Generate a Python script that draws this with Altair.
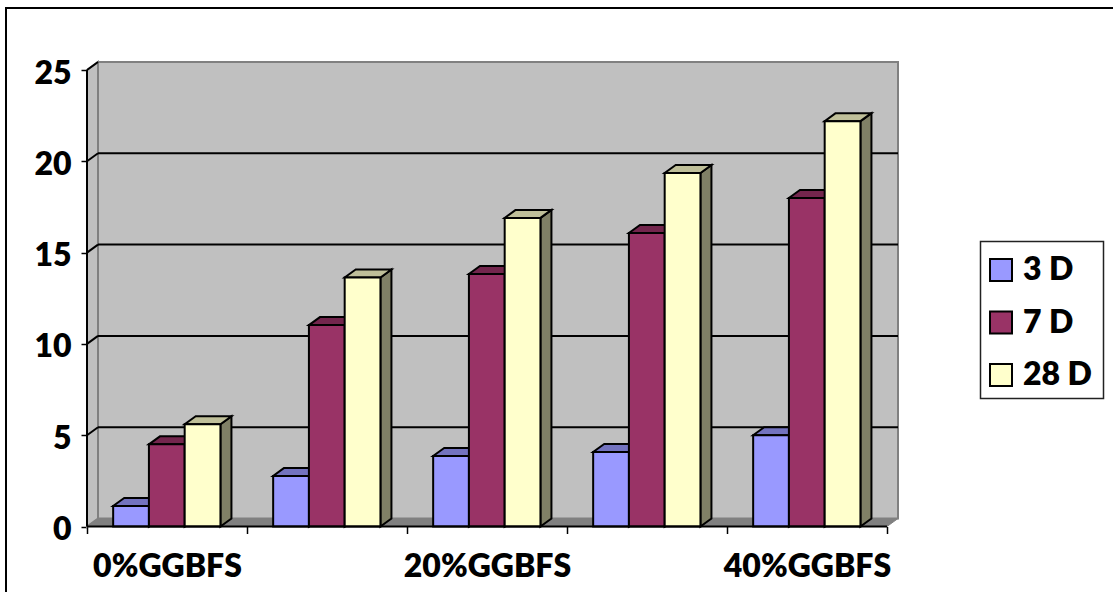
import altair as alt
import pandas as pd

# Compressive strength by GGBFS replacement level and curing age
group_labels = ["0%GGBFS", "10%GGBFS", "20%GGBFS", "30%GGBFS", "40%GGBFS"]
shown_labels = ["0%GGBFS", "20%GGBFS", "40%GGBFS"]
series_names = ["3 D", "7 D", "28 D"]
values_3d = [1.12, 2.77, 3.86, 4.08, 5.0]
values_7d = [4.5, 11.03, 13.83, 16.07, 17.99]
values_28d = [5.6, 13.64, 16.9, 19.36, 22.2]
front_colors = ["#9999FF", "#993366", "#FFFFCC"]
top_colors = ["#7373BF", "#73264D", "#BFBF99"]
side_colors = ["#4D4D80", "#4D1A33", "#808066"]

series_values = [values_3d, values_7d, values_28d]
y_ticks = [0, 5, 10, 15, 20, 25]

# Oblique projection depth, expressed in axis units
DX = 11 / 160
DY = 8 / 18.26
BAR_W = 0.2235
BAR_START = 0.1635
X_MAX = 5 + DX
Y_TOP = 25 + DY

FONT = "Lato"
FONT_SIZE = 32
FONT_WEIGHT = 800
x_scale = alt.Scale(domain=[0, X_MAX], nice=False, zero=False)
y_scale = alt.Scale(domain=[0, Y_TOP], nice=False, zero=False)
x_axis = alt.Axis(
    title=None, grid=False, domain=False,
    values=[i / 2 for i in range(11)],
    labelExpr="datum.value == 0.5 ? '%s' : datum.value == 2.5 ? '%s' : datum.value == 4.5 ? '%s' : ''" % tuple(shown_labels),
    tickOpacity={"condition": {"test": "datum.value % 1 == 0", "value": 1}, "value": 0},
    tickColor="black", tickSize=7, tickWidth=1.5,
    labelFont=FONT, labelFontWeight=FONT_WEIGHT, labelFontSize=FONT_SIZE, labelColor="black",
    labelPadding=18, labelOverlap=False, labelFlush=False, labelBound=False)
y_axis = alt.Axis(
    title=None, grid=False, domain=False, values=y_ticks,
    tickColor="black", tickSize=6, tickWidth=1.5,
    labelFont=FONT, labelFontWeight=FONT_WEIGHT, labelFontSize=FONT_SIZE, labelColor="black",
    labelPadding=10, labelOffset=3, labelOverlap=False, labelBound=False, labelFlush=False)


def xq(field="x"):
    return alt.X(f"{field}:Q", scale=x_scale, axis=x_axis)


def yq(field="y"):
    return alt.Y(f"{field}:Q", scale=y_scale, axis=y_axis)


# Wall, floor and gridlines of the 3-D box
back = pd.DataFrame([{"x": DX, "x2": X_MAX, "y": DY, "y2": Y_TOP}])
back_wall = alt.Chart(back).mark_rect(fill="#C0C0C0", stroke="#808080", strokeWidth=2).encode(
    x=xq(), x2="x2:Q", y=yq(), y2="y2:Q",
)

side = pd.DataFrame([{"x": 0, "y": 25, "y2": 0}, {"x": DX, "y": Y_TOP, "y2": DY}])
side_wall = alt.Chart(side).mark_area(fill="#C0C0C0", stroke="#808080", strokeWidth=2).encode(
    x=xq(), y=yq(), y2="y2:Q",
)

floor = pd.DataFrame([{"y": 0, "x": 0, "x2": 5}, {"y": DY, "x": DX, "x2": X_MAX}])
floor_mark = alt.Chart(floor).mark_area(orient="horizontal", fill="#808080", stroke="#808080", strokeWidth=1).encode(
    y=yq(), x=xq(), x2="x2:Q",
)

grid_rows = []
for v in y_ticks[1:-1]:
    grid_rows.append({"x": 0, "x2": DX, "y": v, "y2": v + DY})
    grid_rows.append({"x": DX, "x2": X_MAX, "y": v + DY, "y2": v + DY})
grid_rows.append({"x": 0, "x2": DX, "y": 25, "y2": Y_TOP})
grid = alt.Chart(pd.DataFrame(grid_rows)).mark_rule(color="black", strokeWidth=2).encode(
    x=xq(), x2="x2:Q", y=yq(), y2="y2:Q",
)

axis_lines = alt.Chart(pd.DataFrame([
    {"x": 0, "x2": 5, "y": 0, "y2": 0},
    {"x": 0, "x2": 0, "y": 0, "y2": 25},
])).mark_rule(color="black", strokeWidth=2).encode(
    x=xq(), x2="x2:Q", y=yq(), y2="y2:Q",
)

# Bar geometry in axis units, computed from the series values
fronts, tops, sides = [], [], []
for s, (name, vals) in enumerate(zip(series_names, series_values)):
    for g, v in enumerate(vals):
        x0 = g + BAR_START + s * BAR_W
        x1 = x0 + BAR_W
        fronts.append({"series": name, "x": x0, "x2": x1, "y": v, "y2": 0})
        tops.append({"s": s, "g": g, "y": v, "x": x0, "x2": x1})
        tops.append({"s": s, "g": g, "y": v + DY, "x": x0 + DX, "x2": x1 + DX})
        sides.append({"s": s, "g": g, "x": x1, "y": v, "y2": 0})
        sides.append({"s": s, "g": g, "x": x1 + DX, "y": v + DY, "y2": DY})
tops = pd.DataFrame(tops)
sides = pd.DataFrame(sides)

bar_layers = []
for s in range(3):
    bar_layers.append(
        alt.Chart(sides[sides.s == s]).mark_area(fill=side_colors[s], stroke="black", strokeWidth=2).encode(
            x=xq(), y=yq(), y2="y2:Q", detail="g:N",
        )
    )
    bar_layers.append(
        alt.Chart(tops[tops.s == s]).mark_area(orient="horizontal", fill=top_colors[s], stroke="black", strokeWidth=2).encode(
            y=yq(), x=xq(), x2="x2:Q", detail="g:N",
        )
    )

legend = alt.Legend(
    title=None, orient="none", legendX=898, legendY=192, padding=0,
    symbolType="square", symbolSize=484, symbolStrokeColor="black", symbolStrokeWidth=2,
    symbolOpacity=1, labelFont=FONT, labelFontWeight=FONT_WEIGHT, labelFontSize=FONT_SIZE,
    labelColor="black", labelOffset=6, rowPadding=20.5, labelLimit=200,
)
front_bars = alt.Chart(pd.DataFrame(fronts)).mark_rect(stroke="black", strokeWidth=2, opacity=1).encode(
    x=xq(), x2="x2:Q", y=yq(), y2="y2:Q",
    fill=alt.Fill("series:N", scale=alt.Scale(domain=series_names, range=front_colors), legend=legend),
)

# Outer chart frame, running past the right and bottom edges
frame = alt.Chart(pd.DataFrame([{"a": 0}])).mark_rect(fill="transparent", stroke="black", strokeWidth=2).encode(
    x=alt.value(-81), x2=alt.value(1040), y=alt.value(-54), y2=alt.value(560),
)

# Box behind the legend entries
legend_box = alt.Chart(pd.DataFrame([{"a": 0}])).mark_rect(fill="white", stroke="#222222", strokeWidth=1.5).encode(
    x=alt.value(893.5), x2=alt.value(1016.5), y=alt.value(179.5), y2=alt.value(336.5),
)

chart = alt.layer(
    back_wall, side_wall, floor_mark, grid, frame, *bar_layers, front_bars, axis_lines, legend_box,
).properties(
    width=811, height=464.5,
    padding={"left": 87, "top": 62, "right": 215, "bottom": 65.5},
    autosize=alt.AutoSizeParams(type="none"),
    background="white",
).configure_view(stroke=None)

chart.save("out.html", embed_options={"renderer": "svg", "actions": False})
